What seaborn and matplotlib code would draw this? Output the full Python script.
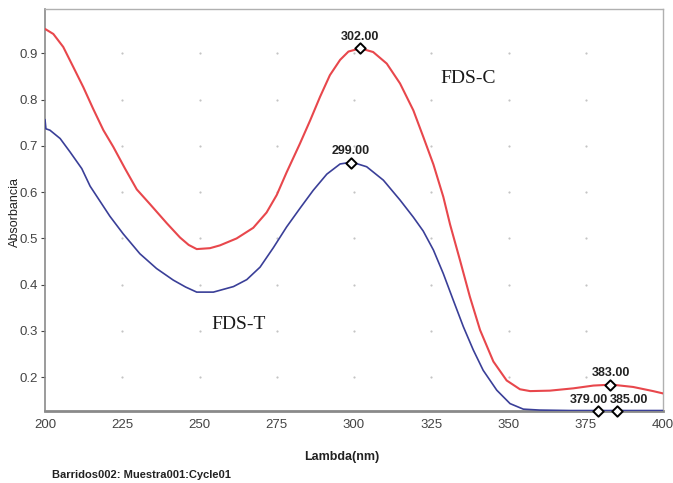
import numpy as np
import pandas as pd
import matplotlib
matplotlib.use("Agg")
import matplotlib.pyplot as plt
import seaborn as sns

# ---- data ----
wl_c = [200, 202.7, 205.9, 209.2, 212.4, 215.6, 218.9, 222.1, 225.9, 229.7, 234, 239.4,
        243.7, 246.5, 249.1, 253.4, 256.6, 262, 267.4, 271.7, 275, 278.2, 282.5, 285.8,
        289, 292.2, 295.5, 298.2, 302, 306.2, 310.6, 314.9, 319.2, 322.4, 325.7, 328.9,
        331.1, 334.3, 337.5, 340.8, 345.1, 349.4, 353.7, 357, 363.4, 371, 377.5, 383.4,
        390.3, 396.8, 400]
abs_c = [0.953, 0.942, 0.914, 0.870, 0.827, 0.780, 0.734, 0.698, 0.651, 0.606, 0.574,
         0.533, 0.502, 0.486, 0.477, 0.479, 0.485, 0.500, 0.523, 0.556, 0.594, 0.643,
         0.705, 0.755, 0.806, 0.853, 0.886, 0.904, 0.911, 0.903, 0.878, 0.835, 0.777,
         0.720, 0.660, 0.590, 0.530, 0.453, 0.374, 0.302, 0.234, 0.193, 0.174, 0.170,
         0.171, 0.176, 0.182, 0.184, 0.179, 0.170, 0.165]

wl_t = [200, 200.3, 201.6, 204.9, 208.1, 211.9, 214.6, 221, 225.3, 230.7, 236.1, 241.5,
        245.5, 249.1, 254.5, 261, 265.3, 269.6, 273.9, 278.2, 282.5, 286.8, 291.2,
        295.5, 299.3, 304.1, 309.5, 314.9, 319.2, 322.4, 325.7, 328.9, 332.1, 335.4,
        338.6, 341.8, 346.2, 350.5, 354.8, 360, 370, 380, 390, 400]
abs_t = [0.757, 0.737, 0.734, 0.716, 0.687, 0.651, 0.613, 0.548, 0.510, 0.467, 0.435,
         0.410, 0.395, 0.384, 0.384, 0.396, 0.411, 0.438, 0.480, 0.525, 0.565, 0.604,
         0.639, 0.661, 0.665, 0.655, 0.626, 0.583, 0.546, 0.516, 0.475, 0.424, 0.367,
         0.309, 0.259, 0.215, 0.172, 0.143, 0.131, 0.129, 0.128, 0.128, 0.128, 0.128]

peak_wl = [302, 299, 383, 379, 385]
peak_abs = [0.911, 0.664, 0.184, 0.128, 0.128]
peak_lbl = ["302.00", "299.00", "383.00", "379.00", "385.00"]

xticks = [200, 225, 250, 275, 300, 325, 350, 375, 400]
yticks = [0.2, 0.3, 0.4, 0.5, 0.6, 0.7, 0.8, 0.9]

sns.set_style("white")
plt.rcParams['font.family'] = ['Liberation Sans', 'DejaVu Sans']

fig = plt.figure(figsize=(6.73, 4.83), dpi=100)
ax = fig.add_axes([45/673, 1-411/483, (663-45)/673, (411-9)/483])

# grid of dots at tick intersections
gx, gy = np.meshgrid(xticks[1:-1], yticks)
ax.scatter(gx.ravel(), gy.ravel(), s=2.5, color="#c4c4c4", zorder=1, linewidths=0)

df_c = pd.DataFrame({"wl": wl_c, "a": abs_c})
df_t = pd.DataFrame({"wl": wl_t, "a": abs_t})
sns.lineplot(data=df_c, x="wl", y="a", ax=ax, color="#E8474C", linewidth=1.5,
             sort=False, estimator=None, zorder=3)
sns.lineplot(data=df_t, x="wl", y="a", ax=ax, color="#3A3F98", linewidth=1.2,
             sort=False, estimator=None, zorder=3)

ax.scatter(peak_wl, peak_abs, marker="D", s=28, facecolor="white", edgecolor="black",
           linewidths=1.4, zorder=5, clip_on=False)
offsets = [(0, 4), (0, 4), (0, 4), (-6.5, 3), (8.5, 3)]
for w, a, l, o in zip(peak_wl, peak_abs, peak_lbl, offsets):
    ax.annotate(l, (w, a), xytext=o, textcoords="offset points", ha="center",
                va="bottom", fontsize=9, fontweight="bold", color="#222222", zorder=6)

ax.text(336.9, 0.846, "FDS-C", fontsize=14, family=["Liberation Serif"],
        ha="center", va="center", color="#1a1a1a")
ax.text(262.5, 0.313, "FDS-T", fontsize=14, family=["Liberation Serif"],
        ha="center", va="center", color="#1a1a1a")

ax.set_xlim(200, 400)
ax.set_ylim(0.127, 0.996)
ax.set_xticks(xticks)
ax.set_xticklabels([str(v) for v in xticks])
ax.set_yticks(yticks)
ax.set_yticklabels([f"{v:.1f}" for v in yticks])
ax.tick_params(axis="both", labelsize=9.5, colors="#444444", length=3, width=0.8,
               pad=2, direction="out")
ax.tick_params(axis="x", length=0, pad=6)
ax.tick_params(axis="y", left=True)

for side in ["top", "right"]:
    ax.spines[side].set_color("#b0b0b0")
    ax.spines[side].set_linewidth(1.0)
ax.spines["left"].set_color("#8a8a8a")
ax.spines["left"].set_linewidth(1.2)
ax.spines["bottom"].set_color("#8a8a8a")
ax.spines["bottom"].set_linewidth(2.0)

ax.set_xlabel("")
ax.set_ylabel("")
fig.text(15/673, 1-212/483, "Absorbancia", rotation=90, ha="center", va="center",
         fontsize=9, color="#222222")
fig.text(342/673, 1-457/483, "Lambda(nm)", ha="center", va="center", fontsize=9,
         fontweight="bold", color="#222222")
fig.text(52/673, 1-475/483, "Barridos002: Muestra001:Cycle01", ha="left", va="center",
         fontsize=8, fontweight="bold", color="#222222")

fig.savefig("out.png", dpi=100)
